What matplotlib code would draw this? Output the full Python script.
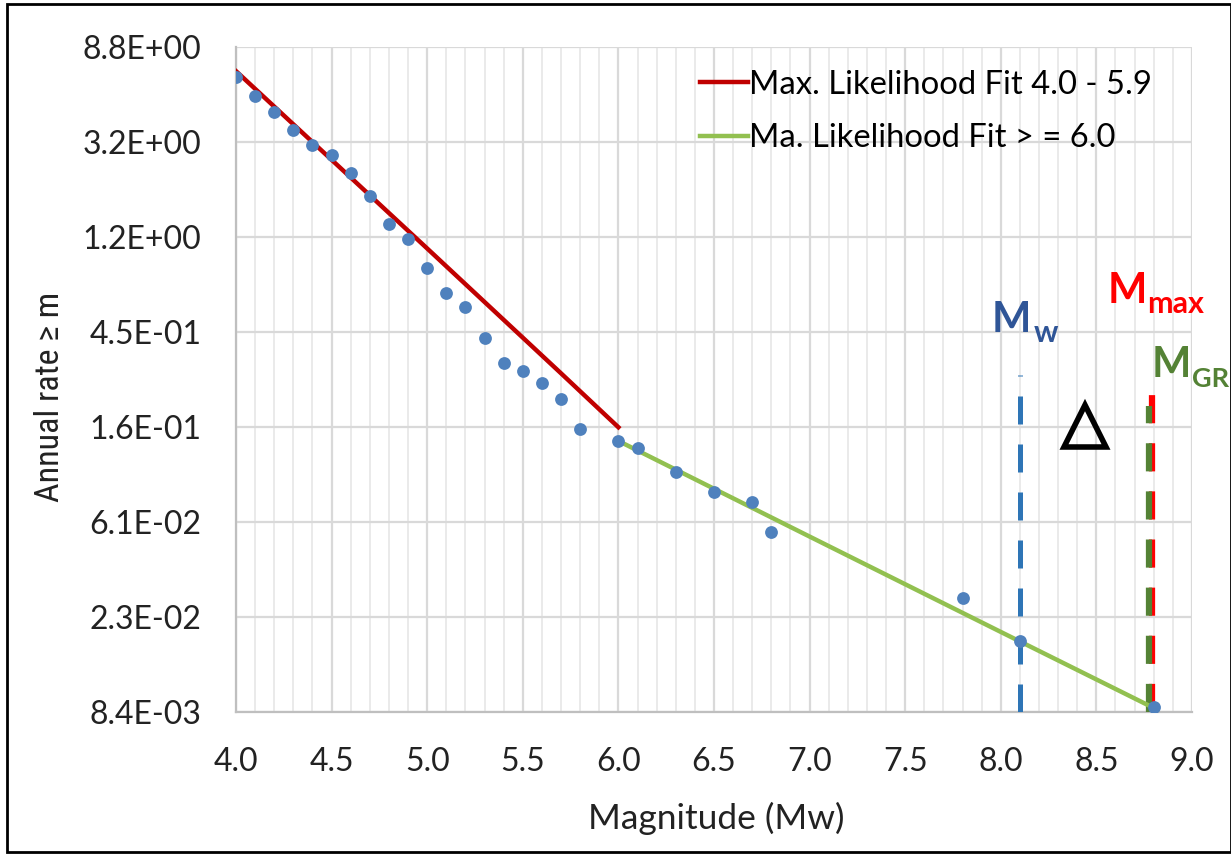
import matplotlib
matplotlib.use("Agg")
from matplotlib import pyplot as plt
from matplotlib.patches import Rectangle
from matplotlib.ticker import MultipleLocator, FixedLocator, NullFormatter, FormatStrFormatter

# observed annual rate >= m
mag = [4.0, 4.1, 4.2, 4.3, 4.4, 4.5, 4.6, 4.7, 4.8, 4.9, 5.0, 5.1, 5.2, 5.3,
       5.4, 5.5, 5.6, 5.7, 5.8, 6.0, 6.1, 6.3, 6.5, 6.7, 6.8, 7.8, 8.1, 8.8]
rate = [6.42, 5.27, 4.46, 3.69, 3.16, 2.84, 2.36, 1.85, 1.38, 1.18, 0.873,
        0.672, 0.580, 0.419, 0.323, 0.297, 0.262, 0.222, 0.162, 0.143, 0.133,
        0.103, 0.0838, 0.0755, 0.0552, 0.0277, 0.0177, 0.00885]

# fitted lines
fit1_m = [4.0, 5.0, 5.7, 6.0]
fit1_r = [6.84, 1.07, 0.29, 0.165]
fit2_m = [6.0, 7.0, 8.0, 8.8]
fit2_r = [0.143, 0.0526, 0.0194, 0.00876]

# magnitude markers
m_w = 8.1
m_gr = 8.775
m_max = 8.79
top_w = 0.285
top_gr = 0.205
top_max = 0.283

ytick_vals = [0.0084 * 2.7005 ** k for k in range(8)]
ytick_labels = ["8.4E-03", "2.3E-02", "6.1E-02", "1.6E-01",
                "4.5E-01", "1.2E+00", "3.2E+00", "8.8E+00"]

plt.rcParams['font.family'] = ['Lato', 'DejaVu Sans']

fig = plt.figure(figsize=(12.31, 8.55), dpi=100)
ax = fig.add_axes([0.1917, 0.1673, 0.9683 - 0.1917, 0.945 - 0.1673])

ax.set_yscale("log")
ax.set_xlim(4.0, 9.0)
ax.set_ylim(ytick_vals[0], ytick_vals[-1])
ax.yaxis.set_major_locator(FixedLocator(ytick_vals))
ax.yaxis.set_minor_locator(FixedLocator([]))
ax.set_yticklabels(ytick_labels)
ax.yaxis.set_minor_formatter(NullFormatter())
ax.xaxis.set_major_locator(MultipleLocator(0.5))
ax.xaxis.set_minor_locator(MultipleLocator(0.1))
ax.xaxis.set_major_formatter(FormatStrFormatter("%.1f"))

ax.grid(which="major", color="#d9d9d9", lw=1.6)
ax.grid(which="minor", axis="x", color="#e6e6e6", lw=1.2)
ax.set_axisbelow(True)
for s in ["top", "right"]:
    ax.spines[s].set_visible(False)
for s in ["left", "bottom"]:
    ax.spines[s].set_color("#bfbfbf")
    ax.spines[s].set_linewidth(1.6)
ax.tick_params(which="both", length=0, labelsize=23, labelcolor="#222222")
ax.tick_params(axis="y", pad=25)
ax.tick_params(axis="x", pad=25)

# dashed magnitude lines (drawn from bottom up so dashes start at axis)
ax.plot([m_max, m_max], [ytick_vals[0], top_max], color="#ff0000", lw=4.5,
        dashes=(4.5, 3.2), zorder=3)
ax.plot([m_gr, m_gr], [ytick_vals[0], top_gr], color="#548235", lw=4.5,
        dashes=(4.5, 3.2), zorder=3)
ax.plot([m_w, m_w], [ytick_vals[0], top_w], color="#2e75b6", lw=3.6,
        dashes=(5.6, 4.0), zorder=3)

ax.plot(fit1_m, fit1_r, color="#c00000", lw=3.2, label="Max. Likelihood Fit 4.0 - 5.9", zorder=4)
ax.plot(fit2_m, fit2_r, color="#92c050", lw=3.2, label="Ma. Likelihood Fit > = 6.0", zorder=4)
ax.scatter(mag, rate, s=85, color="#4f81bd", zorder=5, linewidths=0)

ax.legend(loc="upper left", frameon=False, fontsize=23.6, handlelength=1.45,
          handletextpad=0.05, labelspacing=0.72, borderaxespad=0, borderpad=0,
          bbox_to_anchor=(0.4854, 0.966))

ax.set_xlabel("Magnitude (Mw)", fontsize=25.5, color="#222222")
ax.xaxis.set_label_coords(0.502, -0.1355)
ax.set_ylabel("Annual rate \u2265 m", fontsize=24.5, color="#222222",
              family=["Roboto Condensed", "DejaVu Sans"])
ax.yaxis.set_label_coords(-0.178, 0.474)

# annotations: big M with subscript
ax.text(7.954, 0.447, "M", color="#2f5597", fontsize=30, fontweight="bold")
ax.text(8.174, 0.402, "w", color="#2f5597", fontsize=22, fontweight="bold")
ax.text(8.561, 0.605, "M", color="#ff0000", fontsize=30, fontweight="bold")
ax.text(8.765, 0.545, "max", color="#ff0000", fontsize=22, fontweight="bold")
ax.text(8.791, 0.279, "M", color="#548235", fontsize=30, fontweight="bold",
        clip_on=False)
ax.text(9.0, 0.251, "GR", color="#548235", fontsize=19.5, fontweight="bold",
        clip_on=False)
ax.plot([8.44], [0.167], marker="^", ms=30, mfc="none", mec="black", mew=4,
        clip_on=False)

fig.patches.append(Rectangle((0.006, 0.004), 0.994, 0.991, transform=fig.transFigure,
                             fill=False, ec="black", lw=2))

fig.savefig("out.png", dpi=100)
